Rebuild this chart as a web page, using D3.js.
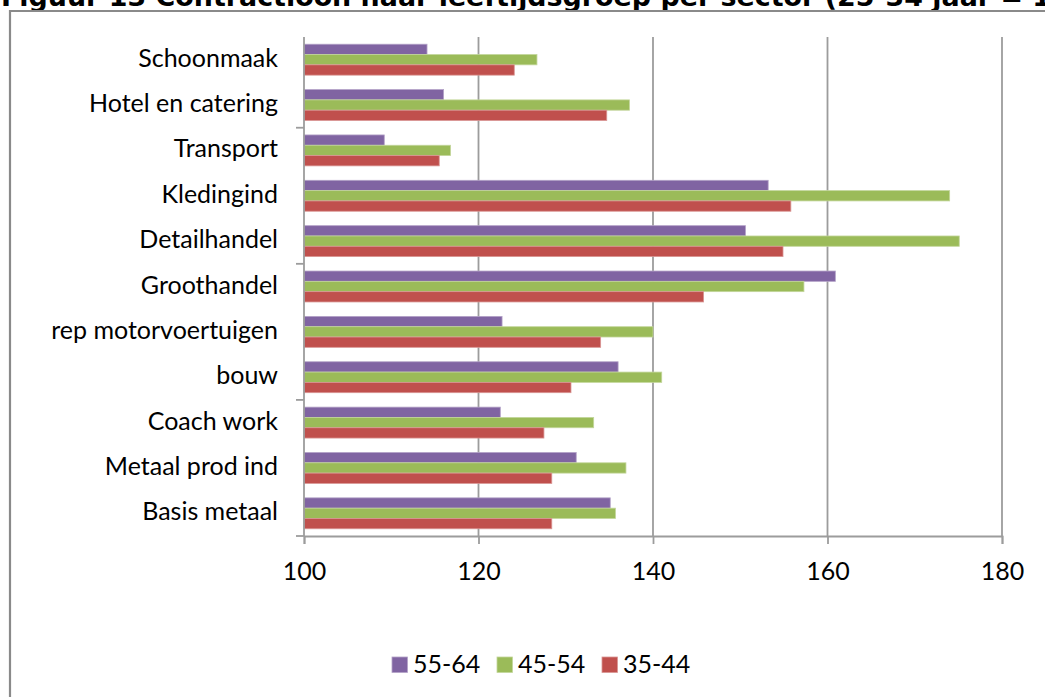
<!DOCTYPE html>
<html>
<head>
<meta charset="utf-8">
<script src="https://cdn.jsdelivr.net/npm/d3@7"></script>
<style>
  html, body { margin: 0; padding: 0; background: #fff; overflow: hidden; }
  svg { display: block; }
</style>
</head>
<body>
<svg id="chart" width="1045" height="697"></svg>
<script>
// ---- data ----
const categories = ["Schoonmaak", "Hotel en catering", "Transport", "Kledingind", "Detailhandel",
  "Groothandel", "rep motorvoertuigen", "bouw", "Coach work", "Metaal prod ind", "Basis metaal"];
const seriesNames = ["55-64", "45-54", "35-44"];
const values5564 = [114.1, 116.0, 109.2, 153.2, 150.6, 160.9, 122.7, 136.0, 122.5, 131.2, 135.1];
const values4554 = [126.7, 137.3, 116.8, 174.0, 175.1, 157.3, 140.0, 141.0, 133.2, 136.9, 135.7];
const values3544 = [124.1, 134.7, 115.5, 155.8, 154.9, 145.8, 134.0, 130.6, 127.5, 128.4, 128.4];
const xTicks = [100, 120, 140, 160, 180];
const titleText = "Figuur 13 Contractloon naar leeftijdsgroep per sector (25-34 jaar = 100)";

const seriesColors = { "55-64": "#8064A2", "45-54": "#9BBB59", "35-44": "#C0504D" };
const seriesStroke = { "55-64": "#b3a2c7", "45-54": "#c3d69b", "35-44": "#d99694" };
const seriesValues = { "55-64": values5564, "45-54": values4554, "35-44": values3544 };

const svg = d3.select("#chart");
const labelFont = "Lato, 'Open Sans', sans-serif";
const labelSize = 25;

// title (cut off at top in the reference)
svg.append("text")
  .attr("x", 1).attr("y", 5.5)
  .attr("font-family", "'DejaVu Sans', Verdana, sans-serif")
  .attr("font-weight", "bold")
  .attr("font-size", 26.9)
  .attr("fill", "#000")
  .text(titleText);

// chart frame
svg.append("path")
  .attr("d", "M10,700 L10,11 L1050,11")
  .attr("fill", "none")
  .attr("stroke", "#8a8a8a")
  .attr("stroke-width", 2.2);

const plot = { left: 304, right: 1002, top: 37, bottom: 536 };

const x = d3.scaleLinear().domain([100, 180]).range([plot.left, plot.right]);
const y0 = d3.scaleBand().domain(categories).range([plot.top, plot.bottom]).padding(0);
const y1 = d3.scaleBand().domain(seriesNames).range([0, y0.bandwidth()]).paddingInner(0).paddingOuter(0.7);

const gridColor = "#9c9c9c";

// gridlines
svg.append("g")
  .selectAll("line")
  .data(xTicks.filter(t => t !== 100))
  .join("line")
  .attr("x1", d => x(d)).attr("x2", d => x(d))
  .attr("y1", plot.top).attr("y2", plot.bottom)
  .attr("stroke", gridColor).attr("stroke-width", 1.8);

// bars
const groups = svg.append("g")
  .selectAll("g")
  .data(categories)
  .join("g")
  .attr("transform", d => `translate(0,${y0(d)})`);

groups.selectAll("rect")
  .data((c, i) => seriesNames.map(s => ({ s, v: seriesValues[s][i] })))
  .join("rect")
  .attr("x", x(100))
  .attr("y", d => y1(d.s))
  .attr("width", d => x(d.v) - x(100))
  .attr("height", y1.bandwidth())
  .attr("fill", d => seriesColors[d.s])
  .attr("stroke", d => seriesStroke[d.s])
  .attr("stroke-width", 0.8);

// x axis
const xAxis = d3.axisBottom(x).tickValues(xTicks).tickSize(8).tickPadding(18).tickFormat(d3.format("d"));
const gx = svg.append("g").attr("transform", `translate(0,${plot.bottom})`).call(xAxis);
gx.select(".domain").attr("stroke", gridColor).attr("stroke-width", 1.8);
gx.selectAll(".tick line").attr("stroke", gridColor).attr("stroke-width", 1.8);
gx.selectAll(".tick text")
  .attr("font-family", labelFont).attr("font-size", labelSize).attr("fill", "#000");

// y axis
svg.append("line")
  .attr("x1", plot.left).attr("x2", plot.left)
  .attr("y1", plot.top).attr("y2", plot.bottom)
  .attr("stroke", gridColor).attr("stroke-width", 1.8);

// y tick marks every 3 categories from the bottom
const yTickPos = d3.range(0, categories.length + 1, 3).map(k => plot.bottom - k * y0.step());
svg.append("g").selectAll("line")
  .data(yTickPos)
  .join("line")
  .attr("x1", plot.left - 8).attr("x2", plot.left)
  .attr("y1", d => d).attr("y2", d => d)
  .attr("stroke", gridColor).attr("stroke-width", 1.8);

// category labels
svg.append("g").selectAll("text")
  .data(categories)
  .join("text")
  .attr("x", plot.left - 26)
  .attr("y", d => y0(d) + y0.bandwidth() / 2 + 7)
  .attr("text-anchor", "end")
  .attr("font-family", labelFont).attr("font-size", labelSize).attr("fill", "#000")
  .text(d => d);

// legend
const legendX = [392, 497, 602];
const legend = svg.append("g").selectAll("g")
  .data(seriesNames)
  .join("g")
  .attr("transform", (d, i) => `translate(${legendX[i]},657)`);
legend.append("rect")
  .attr("width", 15.5).attr("height", 15.5)
  .attr("fill", d => seriesColors[d])
  .attr("stroke", d => seriesStroke[d]).attr("stroke-width", 0.8);
legend.append("text")
  .attr("x", 21).attr("y", 16)
  .attr("font-family", labelFont).attr("font-size", labelSize).attr("fill", "#000")
  .text(d => d);
</script>
</body>
</html>
